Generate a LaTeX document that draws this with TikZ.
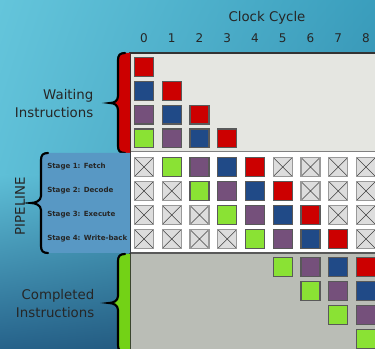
\documentclass[tikz,border=0pt]{standalone}
\usepackage{fontspec}
\setmainfont{DejaVu Sans}
\usetikzlibrary{positioning,calc,shadings}
\definecolor{InstrRed}{HTML}{CC0000}
\definecolor{InstrBlue}{HTML}{204A87}
\definecolor{InstrPurple}{HTML}{75507B}
\definecolor{InstrGreen}{HTML}{8AE234}
\definecolor{BraceGreen}{HTML}{73D216}
\definecolor{WaitGray}{HTML}{E5E6E1}
\definecolor{DoneGray}{HTML}{BABDB6}
\definecolor{IdleGray}{HTML}{DDDDDD}
\definecolor{PipeBlue}{HTML}{5898C4}
\definecolor{SkyA}{HTML}{64C5DB}
\definecolor{SkyB}{HTML}{3A9EBD}
\definecolor{SkyC}{HTML}{5EBFD7}
\definecolor{SkyD}{HTML}{3A8FB0}
\definecolor{SkyE}{HTML}{26628A}
\definecolor{SkyF}{HTML}{1F4E70}
% brace outline: vertical x, top y, bottom y, tip x
\newcommand{\bracecurve}[4]{%
  ({#1+7},#2) .. controls ({#1+2},#2) and (#1,{#2+2}) .. (#1,{#2+7})
  -- (#1,{(#2+#3)/2-7}) .. controls (#1,{(#2+#3)/2-2}) and ({#4+4},{(#2+#3)/2}) .. (#4,{(#2+#3)/2})
  .. controls ({#4+4},{(#2+#3)/2}) and (#1,{(#2+#3)/2+2}) .. (#1,{(#2+#3)/2+7})
  -- (#1,{#3-7}) .. controls (#1,{#3-2}) and ({#1+2},#3) .. ({#1+7},#3)}

\begin{document}
\begin{tikzpicture}[x=0.75pt,y=-0.75pt,
  cell/.style={draw=black!65,line width=0.9pt,minimum size=14.2pt,inner sep=0pt},
  idle/.style={cell,draw=black!40,fill=IdleGray,
               path picture={\draw[black!75,line width=0.5pt]
                 (path picture bounding box.north west) -- (path picture bounding box.south east)
                 (path picture bounding box.north east) -- (path picture bounding box.south west);}},
  instr0/.style={cell,fill=InstrGreen},
  instr1/.style={cell,fill=InstrPurple},
  instr2/.style={cell,fill=InstrBlue},
  instr3/.style={cell,fill=InstrRed},
  cyclbl/.style={font=\fontsize{9}{10}\selectfont,text=black!85},
  sidelbl/.style={font=\fontsize{10}{13.5}\selectfont,align=right,anchor=east,text=black!85},
  stagelbl/.style={font=\fontsize{5.3}{7}\selectfont\bfseries,anchor=west,text=black!85,inner sep=0pt},
  bracestroke/.style={draw=black,line width=1.6pt,line cap=round},
]
\useasboundingbox (0,0) rectangle (375,349);
\clip (0,0) rectangle (375,349);

% background
\shade[upper left=SkyA,upper right=SkyB,lower left=SkyC,lower right=SkyD] (0,0) rectangle (375,175);
\shade[upper left=SkyC,upper right=SkyD,lower left=SkyE,lower right=SkyF] (0,175) rectangle (375,349);

% panels
\fill[WaitGray] (130,53) rectangle (380,152);
\fill[white] (130,152) rectangle (380,253);
\fill[DoneGray] (130,253) rectangle (380,360);
\draw[black!50,line width=0.75pt] (130,152) -- (380,152);
\draw[black!65,line width=0.9pt] (130,253) -- (380,253);
\draw[black!80,line width=0.9pt] (380,53) -- (130,53) -- (130,360);

% braces
\fill[InstrRed] \bracecurve{118}{53}{153}{110} -- (130,153) -- (130,53) -- cycle;
\draw[bracestroke] \bracecurve{118}{53}{153}{110};
\fill[PipeBlue] \bracecurve{41}{153}{253}{31} -- (130,253) -- (130,153) -- cycle;
\draw[bracestroke] \bracecurve{41}{153}{253}{31};
\fill[BraceGreen] \bracecurve{118}{254}{352}{109} -- (130,352) -- (130,254) -- cycle;
\draw[bracestroke] \bracecurve{118}{254}{352}{109};

% header
\node[font=\fontsize{10}{12}\selectfont,text=black!85] (clock) at (267,18) {Clock Cycle};
\foreach \c in {0,...,8}
  \node[cyclbl] (cyc\c) at (144+27.75*\c,38) {\c};

% waiting instructions
\foreach \r in {0,...,3}{
  \foreach \c in {0,...,\r}{
    \pgfmathtruncatemacro\k{3-\r+\c}
    \node[instr\k] (w\r-\c) at (144+27.75*\c,67+23.8*\r) {};
  }
}

% pipeline stages
\foreach \stagename [count=\n] in {Fetch,Decode,Execute,Write-back}{
  \node[stagelbl] (stage\n) at (47,143+24*\n) {Stage \n: \stagename};
  \foreach \c in {0,...,8}{
    \pgfmathtruncatemacro\k{\c-\n}
    \ifnum\k<0 \def\cellkind{idle}\else\ifnum\k>3 \def\cellkind{idle}\else\edef\cellkind{instr\k}\fi\fi
    \node[\cellkind] (p\n-\c) at (144+27.75*\c,143+24*\n) {};
  }
}

% completed instructions
\foreach \r in {0,...,3}{
  \pgfmathtruncatemacro\lastk{3-\r}
  \foreach \k in {0,...,\lastk}{
    \pgfmathtruncatemacro\c{5+\r+\k}
    \node[instr\k] (d\r-\c) at (144+27.75*\c,267+24*\r) {};
  }
}

\node[sidelbl] (waiting) at (98,104) {Waiting\\Instructions};
\node[sidelbl] (done) at (99,304) {Completed\\Instructions};
\node[font=\fontsize{10}{12}\selectfont,text=black!85,rotate=90] (pipe) at (20,206) {PIPELINE};
\end{tikzpicture}
\end{document}
